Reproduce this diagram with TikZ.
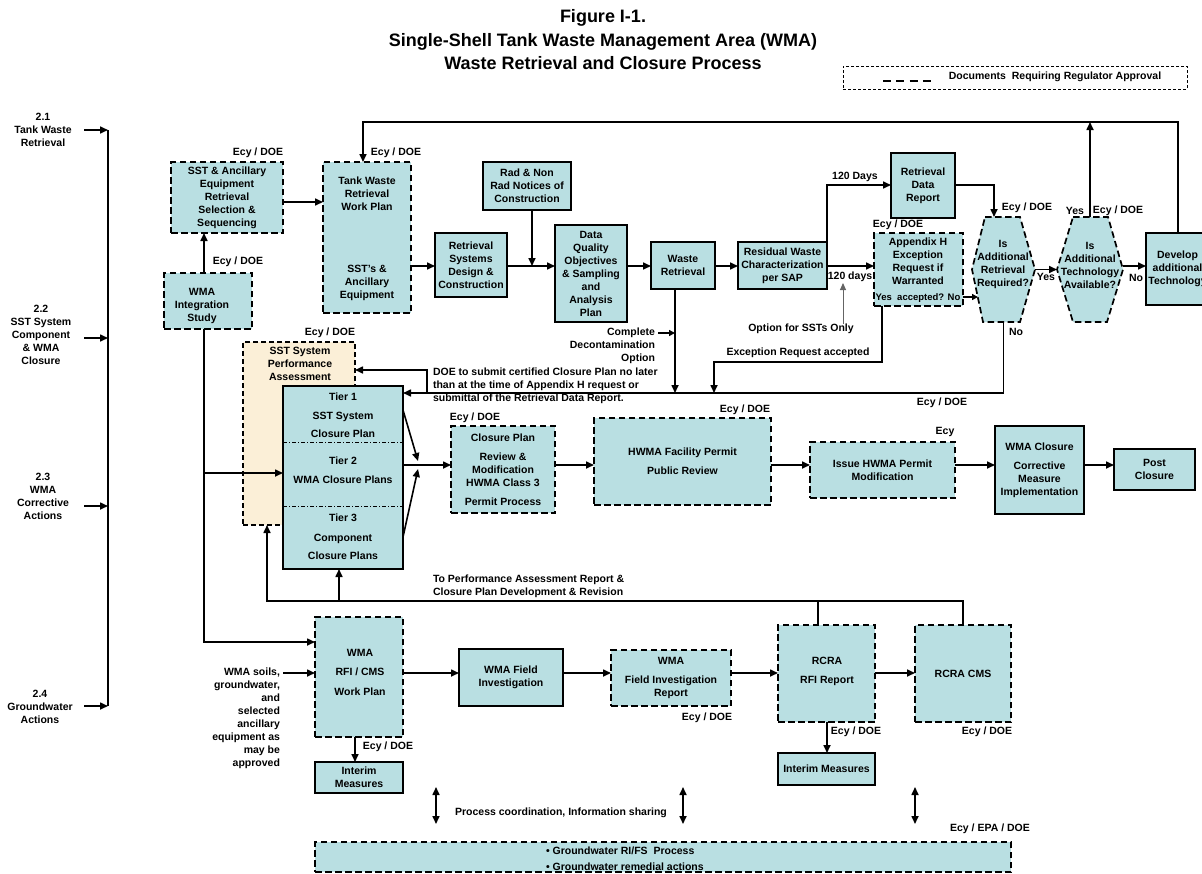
\documentclass[tikz,border=0pt]{standalone}
\usepackage{fontspec}
\setmainfont{Liberation Sans}
\usetikzlibrary{arrows.meta,calc}
\definecolor{boxc}{RGB}{185,223,226}
\definecolor{beige}{RGB}{251,239,215}
\definecolor{optgray}{RGB}{100,100,100}
\newcommand\bx[7]{\node[#6, minimum width={#4-#2}, minimum height={#5-#3}] (#1) at ({(#2+#4)/2},{(#3+#5)/2}) {#7};}
\begin{document}
\begin{tikzpicture}[x=1pt,y=-1pt,
 every node/.style={font=\fontsize{10.5}{13}\selectfont\bfseries,inner sep=0pt,outer sep=0pt},
 sbox/.style={draw,line width=1.7pt,fill=boxc,align=center},
 dbox/.style={sbox,dash pattern=on 6.5pt off 3.5pt},
 pbox/.style={draw,line width=1.2pt,fill=beige,dash pattern=on 5pt off 3pt},
 hexs/.style={draw,line width=1.7pt,fill=boxc,dash pattern=on 6.5pt off 3.5pt},
 legbox/.style={draw,line width=0.8pt,dash pattern=on 3pt off 2pt},
 ghost/.style={},
 lbl/.style={align=center},
 ln/.style={line width=1.6pt},
 arr/.style={ln,-{Triangle[length=8pt,width=7pt]}},
 sarr/.style={ln,-{Triangle[length=6pt,width=6pt]}},
 dbl/.style={ln,{Triangle[length=8pt,width=7pt]}-{Triangle[length=8pt,width=7pt]}},
 ttl/.style={font=\fontsize{18}{21}\selectfont\bfseries},
]
\useasboundingbox (0,0) rectangle (1202,873);

% ---------- title and legend
\node[ttl] (ti1) at (603,18) {Figure I-1.};
\node[ttl] (ti2) at (603,42) {Single-Shell Tank Waste Management Area (WMA)};
\node[ttl] (ti3) at (603,63) {Waste Retrieval and Closure Process};
\bx{leg}{843}{66}{1187}{89}{legbox}{}
\coordinate (legA) at (883,81); \coordinate (legB) at (931,81);
\draw[line width=1.6pt,dash pattern=on 8pt off 5.3pt] (legA) -- (legB);
\node (legT) at (1055,77) {Documents~~Requiring Regulator Approval};

% ---------- left labels and bar
\node[lbl] (l21) at (43,130) {2.1\\Tank Waste\\Retrieval};
\node[lbl] (l22) at (41,335) {2.2\\SST System\\Component\\\& WMA\\Closure};
\node[lbl] (l23) at (43,496.5) {2.3\\WMA\\Corrective\\Actions};
\node[lbl] (l24) at (40,707) {2.4\\Groundwater\\Actions};
\coordinate (a21) at (84,130); \coordinate (b21) at (108,130);
\coordinate (a22) at (84,338); \coordinate (b22) at (108,338);
\coordinate (a23) at (84,506); \coordinate (b23) at (108,506);
\coordinate (a24) at (84,706); \coordinate (b24) at (108,706);
\draw[ln] (b21) -- (b24);
\draw[arr] (a21) -- (b21);
\draw[arr] (a22) -- (b22);
\draw[arr] (a23) -- (b23);
\draw[arr] (a24) -- (b24);

% ---------- boxes, top part
\bx{sst}{171}{162}{283}{233}{dbox}{SST \& Ancillary\\Equipment\\Retrieval\\Selection \&\\Sequencing}
\bx{twr}{323}{162}{411}{313}{dbox}{}
\node[lbl] (twrA) at (367,194) {Tank Waste\\Retrieval\\Work Plan};
\node[lbl] (twrB) at (367,283) {SST's \&\\Ancillary\\Equipment};
\bx{wis}{164}{273}{252}{329}{dbox}{}
\node[lbl] (wisT) at (202,306) {WMA\\Integration\\Study};
\bx{rad}{483}{162}{571}{210}{sbox}{Rad \& Non\\Rad Notices of\\Construction}
\bx{rsd}{435}{233}{507}{297}{sbox}{Retrieval\\Systems\\Design \&\\Construction}
\bx{dqo}{555}{225}{627}{322}{sbox}{Data\\Quality\\Objectives\\\& Sampling\\and\\Analysis\\Plan}
\bx{wr}{651}{242}{715}{289}{sbox}{Waste\\Retrieval}
\bx{rwc}{738}{242}{827}{289}{sbox}{Residual Waste\\Characterization\\per SAP}
\bx{rdr}{891}{153}{955}{218}{sbox}{Retrieval\\Data\\Report}
\bx{aph}{874}{233}{963}{306}{dbox}{}
\node[lbl] (aphT) at (918,261.5) {Appendix H\\Exception\\Request if\\Warranted};
\node[font=\fontsize{9.5}{11}\selectfont\bfseries] (aphY) at (918,298) {Yes~~accepted? No};
\bx{hex1}{972}{217}{1035}{322}{ghost}{}
\draw[hexs] ($(hex1.north west)+(13,0)$) -- ($(hex1.north east)+(-15,0)$) -- (hex1.east)
  -- ($(hex1.south east)+(-15,0)$) -- ($(hex1.south west)+(11,0)$) -- (hex1.west) -- cycle;
\node[lbl] (hex1T) at (1003,264) {Is\\Additional\\Retrieval\\Required?};
\bx{hex2}{1057}{217}{1123}{322}{ghost}{}
\draw[hexs] ($(hex2.north west)+(16,0)$) -- ($(hex2.north east)+(-15,0)$) -- (hex2.east)
  -- ($(hex2.south east)+(-16,0)$) -- ($(hex2.south west)+(16,0)$) -- (hex2.west) -- cycle;
\node[lbl] (hex2T) at (1090,265) {Is\\Additional\\Technology\\Available?};
\bx{dev}{1146}{233}{1209}{305}{sbox}{Develop\\additional\\Technology}

% ---------- middle part
\bx{perf}{243}{342}{355}{525}{pbox}{}
\node[lbl] (perfT) at (300,364) {SST System\\Performance\\Assessment};
\bx{tier}{283}{386}{403}{569}{sbox}{}
\coordinate (y442) at (0,442); \coordinate (y506) at (0,506);
\draw[line width=0.7pt,dash pattern=on 4pt off 2pt on 1pt off 2pt] (tier.west |- y442) -- (tier.east |- y442);
\draw[line width=0.7pt,dash pattern=on 4pt off 2pt on 1pt off 2pt] (tier.west |- y506) -- (tier.east |- y506);
\node[lbl] (t1) at (343,415.5) {Tier 1\\[5.5pt]SST System\\[5.5pt]Closure Plan};
\node[lbl] (t2) at (343,470.5) {Tier 2\\[6pt]WMA Closure Plans};
\node[lbl] (t3) at (343,537) {Tier 3\\[7pt]Component\\[5pt]Closure Plans};
\bx{cp}{451}{426}{555}{513}{dbox}{Closure Plan\\[6pt]Review \&\\Modification\\HWMA Class 3\\[6pt]Permit Process}
\bx{hfp}{594}{418}{771}{505}{dbox}{HWMA Facility Permit\\[6pt]Public Review}
\bx{ihp}{810}{442}{955}{498}{dbox}{Issue HWMA Permit\\Modification}
\bx{wmc}{995}{426}{1084}{514}{sbox}{WMA Closure\\[6pt]Corrective\\Measure\\Implementation}
\bx{pc}{1114}{449}{1195}{490}{sbox}{Post\\Closure}

% ---------- bottom part
\bx{rfi}{315}{617}{403}{737}{dbox}{}
\node[lbl] (rfiT) at (360,672) {WMA\\[6.5pt]RFI / CMS\\[6.5pt]Work Plan};
\bx{im1}{315}{762}{403}{793}{sbox}{Interim\\Measures}
\bx{wfi}{459}{649}{563}{706}{sbox}{WMA Field\\Investigation}
\bx{wfr}{611}{650}{731}{706}{dbox}{WMA\\[6pt]Field Investigation\\Report}
\bx{rrr}{778}{625}{875}{722}{dbox}{}
\node[lbl] (rrrT) at (827,671.5) {RCRA\\[6pt]RFI Report};
\bx{rcms}{915}{625}{1011}{722}{dbox}{RCRA CMS}
\bx{im2}{778}{753}{875}{785}{sbox}{Interim Measures}
\bx{gw}{315}{842}{1011}{872}{dbox}{}
\node[align=left,anchor=west] (gwT) at (546,859) {\textbullet\ Groundwater RI/FS~~Process\\[3pt]\textbullet\ Groundwater remedial actions};

% ---------- Ecy / DOE labels and other texts
\node (e1) at (258,153) {Ecy / DOE};
\node (e2) at (396,153) {Ecy / DOE};
\node (e3) at (238,262) {Ecy / DOE};
\node (e4) at (330,333) {Ecy / DOE};
\node (e5) at (1027,208) {Ecy / DOE};
\node (e6) at (898,225) {Ecy / DOE};
\node (y2) at (1075,211) {Yes};
\node (e7) at (1118,211) {Ecy / DOE};
\node (e8) at (475,418) {Ecy / DOE};
\node (e9) at (745,410) {Ecy / DOE};
\node (e10) at (945,432) {Ecy};
\node (e11) at (942,403) {Ecy / DOE};
\node (e12) at (707,718) {Ecy / DOE};
\node (e13) at (987,732) {Ecy / DOE};
\node (e14) at (856,732) {Ecy / DOE};
\node (e15) at (388,747) {Ecy / DOE};
\node (eed) at (990,829) {Ecy / EPA / DOE};
\node (d120) at (850,277) {120 days};
\node (D120) at (855,177) {120 Days};
\node (yes1) at (1046,277) {Yes};
\node (no1) at (1136,278) {No};
\node (no2) at (1016,332) {No};
\node (opt) at (801,329) {Option for SSTs Only};
\node (exa) at (798,353) {Exception Request accepted};
\node[align=right,anchor=east] (cdo) at (655,346) {Complete\\Decontamination\\Option};
\node[align=left,anchor=west] (doet) at (433,386) {DOE to submit certified Closure Plan no later\\than at the time of Appendix H request or\\submittal of the Retrieval Data Report.};
\node[align=left,anchor=west] (tpa) at (433,586) {To Performance Assessment Report \&\\Closure Plan Development \& Revision};
\node[align=right,anchor=east] (soil) at (280,718) {WMA soils,\\groundwater,\\and\\selected\\ancillary\\equipment as\\may be\\approved};
\node (pci) at (561,813) {Process coordination, Information sharing};

% ---------- connectors, top part
\coordinate (y122) at (0,122); \coordinate (x1178) at (1178,0); \coordinate (x363) at (363,0);
\draw[arr] (dev.north -| x1178) -- (x1178 |- y122) -- (x363 |- y122) -- (twr.north -| x363);
\draw[arr] (hex2.north) -- (hex2.north |- y122);
\coordinate (y202) at (0,202);
\draw[arr] (sst.east |- y202) -- (twr.west |- y202);
\coordinate (x204) at (204,0);
\draw[arr] (wis.north -| x204) -- (sst.south -| x204);
\coordinate (y266) at (0,266);
\draw[arr] (twr.east |- y266) -- (rsd.west |- y266);
\draw[arr] (rsd.east |- y266) -- (dqo.west |- y266);
\coordinate (x532) at (532,0);
\draw[arr] (rad.south -| x532) -- (x532 |- y266);
\draw[arr] (dqo.east |- y266) -- (wr.west |- y266);
\draw[arr] (wr.east |- y266) -- (rwc.west |- y266);
\draw[arr] (rwc.east |- y266) -- (aph.west |- y266);
\coordinate (y185) at (0,185);
\draw[arr] (rwc.north east) -- (rwc.north east |- y185) -- (rdr.west |- y185);
\coordinate (x994) at (994,0);
\draw[arr] (rdr.east |- y185) -- (x994 |- y185) -- (hex1.north -| x994);
\coordinate (y297) at (0,297); \coordinate (h1in) at (978,297);
\draw[sarr] (aph.east |- y297) -- (h1in);
\draw[arr] (hex1.east) -- (hex2.west);
\draw[arr] (hex2.east |- y266) -- (dev.west |- y266);
\coordinate (x843) at (843,0); \coordinate (y283) at (0,283);
\draw[line width=1pt,color=optgray,-{Triangle[length=7pt,width=6pt]}] (opt.north -| x843) -- (x843 |- y283);

% ---------- connectors, middle part
\coordinate (y393) at (0,393);
\draw[arr] (hex1.south) -- (hex1.south |- y393) -- (tier.east |- y393);
\coordinate (x675) at (675,0);
\draw[arr] (wr.south -| x675) -- (x675 |- y393);
\coordinate (cA) at (658,333);
\draw[sarr] (cA) -- (x675 |- cA);
\coordinate (x882) at (882,0); \coordinate (y362) at (0,362); \coordinate (x714) at (714,0);
\draw[arr] (aph.south -| x882) -- (x882 |- y362) -- (x714 |- y362) -- (x714 |- y393);
\coordinate (x427) at (427,0); \coordinate (y370) at (0,370);
\draw[arr] (x427 |- y393) -- (x427 |- y370) -- (perf.east |- y370);
\coordinate (y410) at (0,410); \coordinate (y537) at (0,537); \coordinate (y465) at (0,465);
\coordinate (jA) at (418,461); \coordinate (jB) at (418,469);
\draw[arr] (tier.east |- y410) -- (jA);
\draw[arr] (tier.east |- y537) -- (jB);
\draw[arr] (tier.east |- y465) -- (cp.west |- y465);
\draw[arr] (cp.east |- y465) -- (hfp.west |- y465);
\draw[arr] (hfp.east |- y465) -- (ihp.west |- y465);
\draw[arr] (ihp.east |- y465) -- (wmc.west |- y465);
\draw[arr] (wmc.east |- y465) -- (pc.west |- y465);
\coordinate (y473) at (0,473); \coordinate (y642) at (0,642);
\draw[arr] (wis.south -| x204) -- (x204 |- y642) -- (rfi.west |- y642);
\draw[arr] (x204 |- y473) -- (tier.west |- y473);

% ---------- connectors, bottom part
\coordinate (y601) at (0,601); \coordinate (x963) at (963,0); \coordinate (x818) at (818,0);
\coordinate (x267) at (267,0); \coordinate (x339) at (339,0);
\draw[arr] (rcms.north -| x963) -- (x963 |- y601) -- (x267 |- y601) -- (perf.south -| x267);
\draw[ln] (rrr.north -| x818) -- (x818 |- y601);
\draw[arr] (x339 |- y601) -- (tier.south -| x339);
\coordinate (sA) at (283,673); \coordinate (y673) at (0,673);
\draw[arr] (sA) -- (rfi.west |- y673);
\draw[arr] (rfi.east |- y673) -- (wfi.west |- y673);
\draw[arr] (wfi.east |- y673) -- (wfr.west |- y673);
\draw[arr] (wfr.east |- y673) -- (rrr.west |- y673);
\draw[arr] (rrr.east |- y673) -- (rcms.west |- y673);
\coordinate (x355) at (355,0);
\draw[arr] (rfi.south -| x355) -- (im1.north -| x355);
\coordinate (x827) at (827,0);
\draw[arr] (rrr.south -| x827) -- (im2.north -| x827);
\coordinate (y787) at (0,787); \coordinate (y824) at (0,824);
\coordinate (x436) at (436,0); \coordinate (x683) at (683,0); \coordinate (x915) at (915,0);
\draw[dbl] (x436 |- y787) -- (x436 |- y824);
\draw[dbl] (x683 |- y787) -- (x683 |- y824);
\draw[dbl] (x915 |- y787) -- (x915 |- y824);
\end{tikzpicture}
\end{document}
